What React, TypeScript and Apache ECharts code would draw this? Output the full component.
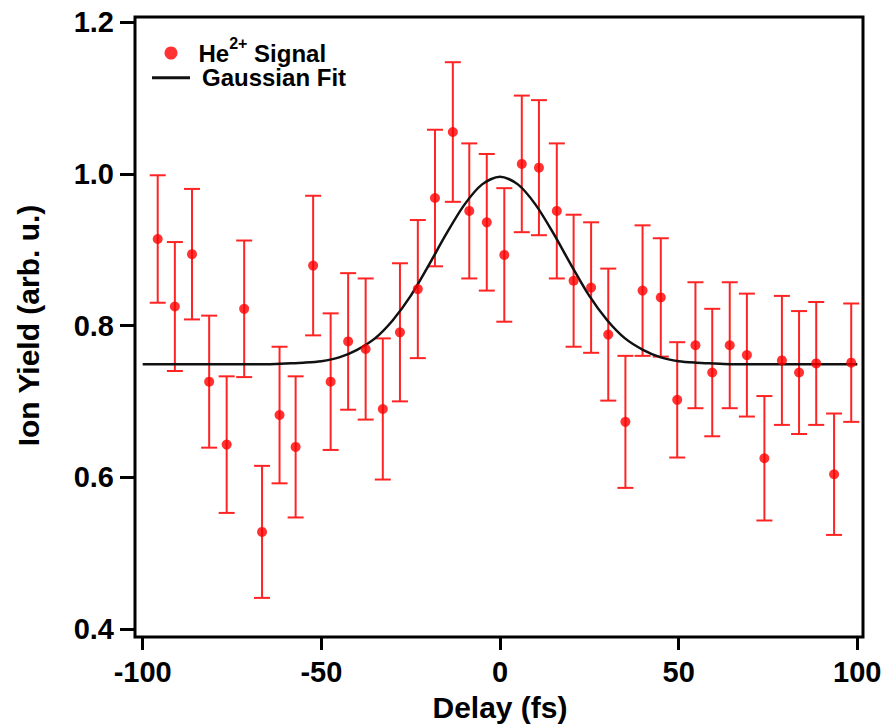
import React, { useEffect, useRef } from 'react';
import * as echarts from 'echarts';

// Measured data (delay in fs, He2+ ion yield, error bar half-length)
const delays = [-95.8, -91.0, -86.2, -81.4, -76.5, -71.6, -66.6, -61.7, -57.2, -52.3, -47.4, -42.5, -37.6, -32.8, -28.0, -23.0, -18.2, -13.2, -8.6, -3.7, 1.2, 6.1, 10.9, 15.9, 20.6, 25.5, 30.3, 35.1, 39.9, 45.0, 49.6, 54.7, 59.4, 64.3, 69.1, 74.0, 78.9, 83.7, 88.5, 93.5, 98.3];
const signal = [0.914, 0.825, 0.894, 0.726, 0.643, 0.822, 0.528, 0.682, 0.640, 0.879, 0.726, 0.779, 0.769, 0.690, 0.791, 0.848, 0.968, 1.055, 0.951, 0.936, 0.893, 1.013, 1.008, 0.951, 0.859, 0.850, 0.788, 0.673, 0.846, 0.837, 0.702, 0.774, 0.738, 0.774, 0.761, 0.625, 0.754, 0.738, 0.750, 0.604, 0.751];
const errors = [0.084, 0.085, 0.086, 0.087, 0.090, 0.090, 0.087, 0.090, 0.093, 0.092, 0.090, 0.090, 0.093, 0.093, 0.091, 0.091, 0.090, 0.092, 0.089, 0.090, 0.088, 0.090, 0.089, 0.089, 0.087, 0.086, 0.087, 0.087, 0.086, 0.078, 0.076, 0.083, 0.084, 0.083, 0.081, 0.082, 0.085, 0.081, 0.081, 0.080, 0.078];

// Gaussian fit curve
const fitDelays = [-100, -95, -90, -85, -80, -75, -70, -65, -60, -55, -50, -45, -40, -35, -30, -25, -20, -15, -10, -5, 0, 5, 10, 15, 20, 25, 30, 35, 40, 45, 50, 55, 60, 65, 70, 75, 80, 85, 90, 95, 100];
const fitValues = [0.749, 0.749, 0.749, 0.749, 0.749, 0.749, 0.749, 0.749, 0.750, 0.751, 0.753, 0.758, 0.768, 0.783, 0.807, 0.839, 0.879, 0.921, 0.959, 0.986, 0.996, 0.986, 0.959, 0.921, 0.879, 0.839, 0.807, 0.783, 0.768, 0.758, 0.753, 0.751, 0.750, 0.749, 0.749, 0.749, 0.749, 0.749, 0.749, 0.749, 0.749];

const xTicks = { min: -100, max: 100, interval: 50 };
const yTicks = { min: 0.4, max: 1.2, interval: 0.2 };

const FONT = '"Liberation Sans", Arial, Helvetica, sans-serif';
const RED = '#ff0000';
const BAR_RED = '#ff2424';

export default function App() {
  const ref = useRef<HTMLDivElement>(null);

  useEffect(() => {
    if (!ref.current) return;
    const chart = echarts.init(ref.current, undefined, { renderer: 'svg' });

    const errData = delays.map((d, i) => [d, signal[i] - errors[i], signal[i] + errors[i]]);
    const scatterData = delays.map((d, i) => [d, signal[i]]);
    const fitData = fitDelays.map((d, i) => [d, fitValues[i]]);

    chart.setOption({
      animation: false,
      backgroundColor: '#ffffff',
      textStyle: { fontFamily: FONT },
      grid: { left: 142.7, right: 28.7, top: 22, bottom: 97 },
      graphic: [
        {
          type: 'rect',
          silent: true,
          z: 50,
          shape: { x: 135, y: 17, width: 728, height: 620 },
          style: { fill: 'none', stroke: '#000', lineWidth: 3 },
        },
      ],
      legend: [
        {
          left: 164.5,
          top: 35,
          padding: 0,
          orient: 'vertical',
          itemWidth: 13,
          itemHeight: 13,
          data: [{ name: 'He2+ Signal', icon: 'circle' }],
          formatter: () => '{p|}{a|He}{s|2+}{a| Signal}',
          textStyle: {
            rich: {
              p: { width: 16, lineHeight: 36 },
              a: { fontSize: 24, fontWeight: 'bold', color: '#000', fontFamily: FONT, lineHeight: 36 },
              s: { fontSize: 16, fontWeight: 'bold', color: '#000', fontFamily: FONT, lineHeight: 17, verticalAlign: 'top' },
            },
          },
        },
        {
          left: 152,
          top: 63.7,
          padding: 0,
          orient: 'vertical',
          itemWidth: 38,
          itemHeight: 3,
          data: [{ name: 'Gaussian Fit', icon: 'rect' }],
          textStyle: {
            padding: [0, 0, 0, 7],
            fontSize: 24,
            lineHeight: 28,
            fontWeight: 'bold',
            color: '#000',
            fontFamily: FONT,
          },
        },
      ],
      xAxis: {
        type: 'value',
        min: xTicks.min,
        max: xTicks.max,
        interval: xTicks.interval,
        offset: 7,
        name: 'Delay (fs)',
        nameLocation: 'middle',
        nameGap: 56,
        nameTextStyle: { fontSize: 30, fontWeight: 'bold', color: '#000', fontFamily: FONT },
        axisLine: { show: false, onZero: false },
        axisTick: { show: true, length: 14, lineStyle: { color: '#000', width: 3 } },
        axisLabel: {
          show: true,
          margin: 21,
          fontSize: 29,
          fontWeight: 'bold',
          color: '#000',
          fontFamily: FONT,
          showMinLabel: true,
          showMaxLabel: true,
        },
        splitLine: { show: false },
      },
      yAxis: {
        type: 'value',
        min: yTicks.min,
        max: yTicks.max,
        interval: yTicks.interval,
        offset: 7.7,
        name: 'Ion Yield (arb. u.)',
        nameLocation: 'middle',
        nameGap: 92,
        nameTextStyle: { fontSize: 30, fontWeight: 'bold', color: '#000', fontFamily: FONT },
        axisLine: { show: false, onZero: false },
        axisTick: { show: true, length: 15, lineStyle: { color: '#000', width: 3 } },
        axisLabel: {
          show: true,
          margin: 21,
          fontSize: 29,
          fontWeight: 'bold',
          color: '#000',
          fontFamily: FONT,
          formatter: (v: number) => v.toFixed(1),
          showMinLabel: true,
          showMaxLabel: true,
        },
        splitLine: { show: false },
      },
      series: [
        {
          type: 'custom',
          name: 'error',
          z: 2,
          clip: false,
          data: errData,
          encode: { x: 0, y: [1, 2] },
          renderItem: (params: any, api: any) => {
            const x = api.value(0);
            const lo = api.coord([x, api.value(1)]);
            const hi = api.coord([x, api.value(2)]);
            const w = 8;
            const style = { stroke: BAR_RED, lineWidth: 2 };
            return {
              type: 'group',
              children: [
                { type: 'line', shape: { x1: lo[0], y1: lo[1], x2: hi[0], y2: hi[1] }, style },
                { type: 'line', shape: { x1: hi[0] - w, y1: hi[1], x2: hi[0] + w, y2: hi[1] }, style },
                { type: 'line', shape: { x1: lo[0] - w, y1: lo[1], x2: lo[0] + w, y2: lo[1] }, style },
              ],
            };
          },
        },
        {
          type: 'line',
          name: 'Gaussian Fit',
          z: 3,
          data: fitData,
          smooth: 0.3,
          symbol: 'none',
          color: '#111',
          lineStyle: { color: '#111', width: 2.5 },
          itemStyle: { color: '#111' },
        },
        {
          type: 'scatter',
          name: 'He2+ Signal',
          z: 4,
          data: scatterData,
          symbol: 'circle',
          symbolSize: 10,
          itemStyle: { color: RED },
        },
      ],
    });

    return () => chart.dispose();
  }, []);

  return (
    <div
      ref={ref}
      style={{ position: 'absolute', left: 0, top: 0, width: 886, height: 727, background: '#fff' }}
    />
  );
}
